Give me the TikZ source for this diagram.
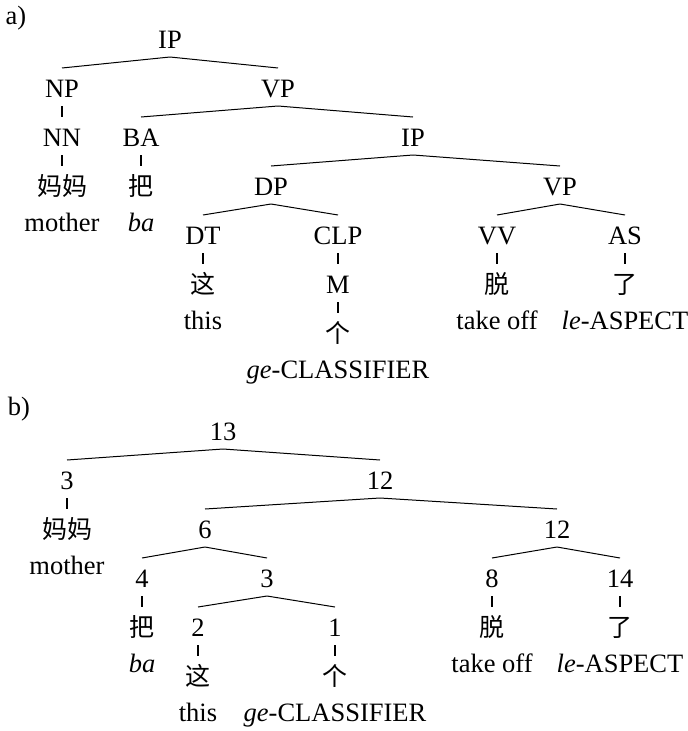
\documentclass[tikz,border=0pt]{standalone}
\usepackage{fontspec}
\setmainfont{Liberation Serif}
\newfontfamily\cjk{Noto Sans CJK SC}
\begin{document}
\begin{tikzpicture}[x=1pt,y=-1pt,
  every node/.style={anchor=base,inner sep=0pt,font=\fontsize{26.5}{30}\selectfont},
  cjkn/.style={font=\cjk\fontsize{25}{28}\selectfont},
  branch/.style={line width=1pt},
  vline/.style={line width=1.4pt}]
\useasboundingbox (0,0) rectangle (688,731);
% ---------- tree a ----------
\node (laba) at (16,24) {a)};
\node (aIP) at (170,48) {IP};
\node (aNP) at (62,97) {NP};
\node (aVP) at (278,97) {VP};
\node (aNN) at (62,146) {NN};
\node (aBA) at (141,146) {BA};
\node (aIPb) at (413,146) {IP};
\node[cjkn] (aMM) at (62,195) {妈妈};
\node (aMMg) at (62,231) {mother};
\node[cjkn] (aBa) at (141,195) {把};
\node (aBag) at (141,231) {\textit{ba}};
\node (aDP) at (271,195) {DP};
\node (aVPb) at (560,195) {VP};
\node (aDT) at (203,244) {DT};
\node (aCLP) at (338,244) {CLP};
\node (aVV) at (497,244) {VV};
\node (aAS) at (625,244) {AS};
\node[cjkn] (aZhe) at (203,293) {这};
\node (aZheg) at (203,329) {this};
\node (aM) at (338,293) {M};
\node[cjkn] (aTuo) at (497,293) {脱};
\node (aTuog) at (497,329) {take off};
\node[cjkn] (aLe) at (625,293) {了};
\node (aLeg) at (625,329) {\textit{le}-ASPECT};
\node[cjkn] (aGe) at (338,342) {个};
\node (aGeg) at (338,378) {\textit{ge}-CLASSIFIER};
% ---------- tree b ----------
\node (labb) at (19,415) {b)};
\node (b13) at (223,440) {13};
\node (b3) at (67,489) {3};
\node (b12) at (380,489) {12};
\node[cjkn] (bMM) at (67,538) {妈妈};
\node (bMMg) at (67,574) {mother};
\node (b6) at (205,538) {6};
\node (b12b) at (557,538) {12};
\node (b4) at (142,587) {4};
\node (b3b) at (267,587) {3};
\node (b8) at (492,587) {8};
\node (b14) at (620,587) {14};
\node[cjkn] (bBa) at (142,636) {把};
\node (bBag) at (142,672) {\textit{ba}};
\node (b2) at (198,636) {2};
\node (b1) at (335,636) {1};
\node[cjkn] (bTuo) at (492,636) {脱};
\node (bTuog) at (492,672) {take off};
\node[cjkn] (bLe) at (620,636) {了};
\node (bLeg) at (620,672) {\textit{le}-ASPECT};
\node[cjkn] (bZhe) at (198,685) {这};
\node (bZheg) at (198,721) {this};
\node[cjkn] (bGe) at (335,685) {个};
\node (bGeg) at (335,721) {\textit{ge}-CLASSIFIER};
% ---------- branches ----------
\foreach \p/\c in {aIP/aNP,aIP/aVP,aVP/aBA,aVP/aIPb,aIPb/aDP,aIPb/aVPb,aDP/aDT,aDP/aCLP,aVPb/aVV,aVPb/aAS,
                   b13/b3,b13/b12,b12/b6,b12/b12b,b6/b4,b6/b3b,b12b/b8,b12b/b14,b3b/b2,b3b/b1}
  \draw[branch] ([yshift=-9pt]\p.base) -- ([yshift=29pt]\c.base);
\foreach \p/\c in {aNP/aNN,aNN/aMM,aBA/aBa,aDT/aZhe,aCLP/aM,aM/aGe,aVV/aTuo,aAS/aLe,
                   b3/bMM,b4/bBa,b2/bZhe,b1/bGe,b8/bTuo,b14/bLe}
  \draw[vline] ([yshift=-9pt]\p.base) -- ([yshift=29pt]\c.base);
\end{tikzpicture}
\end{document}
